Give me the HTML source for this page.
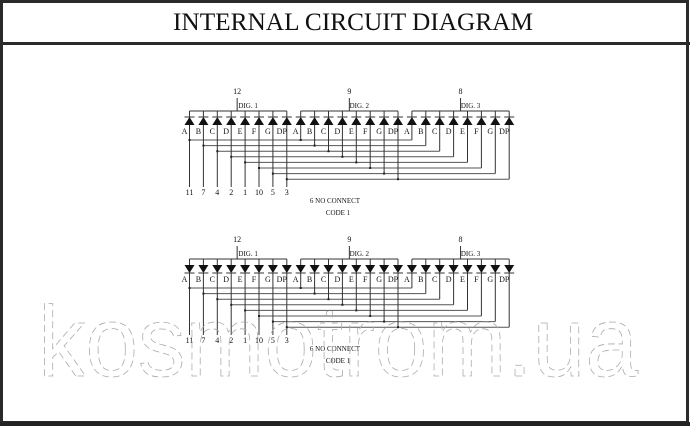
<!DOCTYPE html>
<html><head><meta charset="utf-8"><style>
html,body{margin:0;padding:0;background:#fff}
svg{display:block}
text{font-family:"Liberation Serif",serif;fill:#111}
</style></head><body>
<svg id="s" width="690" height="426" viewBox="0 0 690 426" xmlns="http://www.w3.org/2000/svg">
<rect x="0" y="0" width="690" height="426" fill="#fff"/>
<rect x="1.5" y="1.5" width="686" height="421" fill="none" stroke="#2a2a2a" stroke-width="3"/>
<rect x="0" y="422" width="690" height="4" fill="#222"/>
<line x1="0" y1="43.5" x2="690" y2="43.5" stroke="#2a2a2a" stroke-width="3"/>
<text x="173" y="30" font-size="25" textLength="360" lengthAdjust="spacingAndGlyphs">INTERNAL CIRCUIT DIAGRAM</text>
<g id="d"></g>
<text x="38" y="376" font-size="100" textLength="600" lengthAdjust="spacingAndGlyphs" stroke="#aaa" stroke-width="0.8" stroke-dasharray="7,4" style="fill:none;font-family:'Liberation Sans',sans-serif">kosmotrom.ua</text>
</svg>
<script>
var g=document.getElementById('d'),NS='http://www.w3.org/2000/svg';
function el(t,a,txt){var e=document.createElementNS(NS,t);for(var k in a)e.setAttribute(k,a[k]);if(txt)e.textContent=txt;g.appendChild(e);return e;}
function L(x1,y1,x2,y2,c){el('line',{x1:x1,y1:y1,x2:x2,y2:y2,stroke:c||'#333','stroke-width':1});}
function T(x,y,s,fs){el('text',{x:x,y:y,'font-size':fs||8,'text-anchor':'middle'},s);}
var segs=['A','B','C','D','E','F','G','DP'],pins=['11','7','4','2','1','10','5','3'],com=['12','9','8'];
function X(i){return 189.5+13.9*i;}
function draw(o,down){
 for(var d=0;d<3;d++){
  var x0=X(d*8),x1=X(d*8+7),cx=(x0+x1)/2;
  L(x0,111+o,x1,111+o);
  var px=X(d*8+3.5)+ (d==0?-1:0);
  L(px,98+o,px,111+o);
  T(px,94+o,com[d],8);
  T(cx+10,108+o,'DIG. '+(d+1),7);
  for(var k=0;k<8;k++){
   var x=X(d*8+k);
   L(x,111+o,x,117+o);
   if(!down) el('polygon',{points:(x-5)+','+(125+o)+' '+(x+5)+','+(125+o)+' '+x+','+(117+o),fill:'#111'});
   else el('polygon',{points:(x-5)+','+(117+o)+' '+(x+5)+','+(117+o)+' '+x+','+(125+o),fill:'#111'});
   L(x-5,(down?125:117)+o,x+5,(down?125:117)+o);
   T(x-5,134+o,segs[k],8);
  }
 }
 for(var k=0;k<8;k++){
  var y=140+5.6*k+o,xa=X(k),xb=X(8+k),xc=X(16+k);
  L(xa,125+o,xa,187+o);
  L(xb,125+o,xb,y);
  L(xc,125+o,xc,y);
  L(xa,y,xc,y,'#555');
  el('rect',{x:xa-1,y:y-1,width:2,height:2,fill:'#222'});
  el('rect',{x:xb-1,y:y-1,width:2,height:2,fill:'#222'});
  T(xa,195+o,pins[k],8);
 }
 T(335,203+o,'6 NO CONNECT',7);
 T(338,215+o,'CODE 1',7);
}
draw(0,false);draw(148,true);
</script>
</body></html>
